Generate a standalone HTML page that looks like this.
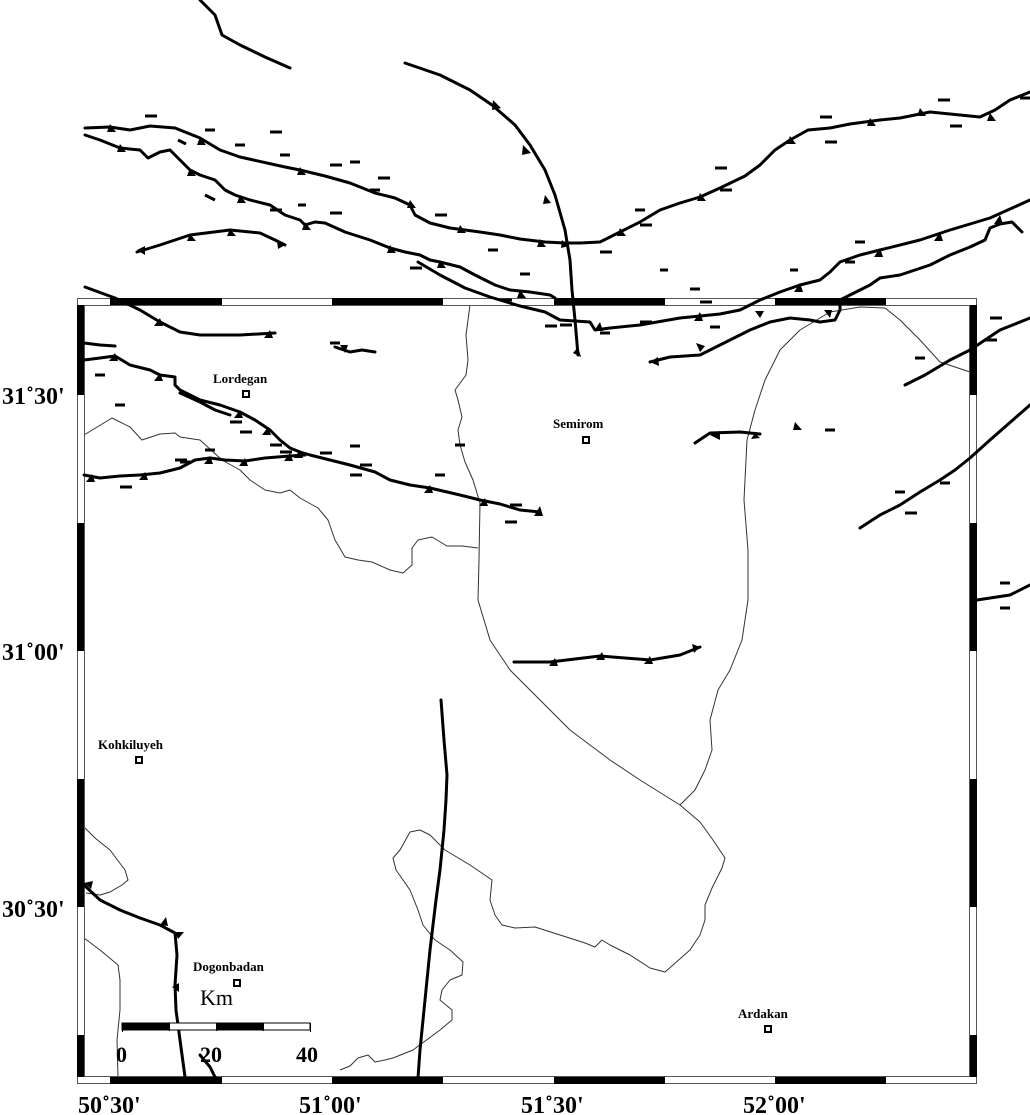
<!DOCTYPE html>
<html><head><meta charset="utf-8"><style>
html,body{margin:0;padding:0;background:#fff}
svg{display:block}
.t{font-family:"Liberation Serif",serif;font-weight:bold}
</style></head><body>
<svg width="1030" height="1115" viewBox="0 0 1030 1115" xmlns="http://www.w3.org/2000/svg">
<defs>
<clipPath id="inner"><rect x="84" y="305" width="886" height="772"/></clipPath>
</defs>
<!-- thin boundaries -->
<g fill="none" stroke="#333" stroke-width="1" stroke-linejoin="round">
<polyline points="84,435 112,418 130,427 142,440 160,434 175,433 180,437 200,440 211,450 222,460 240,470 250,480 265,490 280,493 290,490 300,498 318,508 328,520 335,540 345,557 358,560 372,562 390,570 403,573 412,565 412,548 418,540 432,537 447,546 462,546 478,548"/>
<polyline points="470,305 466,335 468,360 466,375 455,390 458,400 462,417 458,430 460,445 465,462 473,480 480,503 479,560 478,600 490,640 510,670 540,700 570,730 610,760 640,780 680,805"/>
<polyline points="680,805 695,790 705,770 712,750 710,720 718,690 730,670 742,640 748,600 748,550 744,500 747,440 755,410 765,380 780,350 800,330 830,312 860,307 885,308 900,320 920,340 940,362 970,372"/>
<polyline points="680,805 700,822 713,840 725,858 722,868 712,888 705,905 705,920 700,935 690,950 665,972 650,968 630,955 610,945 602,940 595,947 585,943 560,935 535,927 515,928 502,925 495,915 490,900 492,880 470,865 445,850 430,835 420,830 410,832 400,850 393,858 396,870 410,890 418,910 423,925 435,940 450,950 463,962 462,975 450,980 442,990 440,1000 452,1010 452,1020 440,1030 413,1050 393,1058 385,1060 375,1062 368,1055 358,1058 350,1066 340,1070"/>
<polyline points="84,827 95,838 110,850 125,870 128,880 122,885 110,892 100,895 86,893"/>
<polyline points="84,938 100,950 118,965 120,980 120,1010 117,1040 118,1077"/>
</g>
<!-- frame -->
<g>
<rect x="77.5" y="298.5" width="899" height="785" fill="none" stroke="#555" stroke-width="1"/>
<rect x="84.5" y="305.5" width="885" height="771" fill="none" stroke="#555" stroke-width="1"/>
<g fill="#000">
<rect x="110" y="298" width="112" height="7"/><rect x="332" y="298" width="111" height="7"/><rect x="554" y="298" width="111" height="7"/><rect x="775" y="298" width="111" height="7"/>
<rect x="110" y="1077" width="112" height="7"/><rect x="332" y="1077" width="111" height="7"/><rect x="554" y="1077" width="111" height="7"/><rect x="775" y="1077" width="111" height="7"/>
<rect x="77" y="305" width="7" height="90"/><rect x="77" y="523" width="7" height="128"/><rect x="77" y="779" width="7" height="128"/><rect x="77" y="1035" width="7" height="42"/>
<rect x="970" y="305" width="7" height="90"/><rect x="970" y="523" width="7" height="128"/><rect x="970" y="779" width="7" height="128"/><rect x="970" y="1035" width="7" height="42"/>
</g>
</g>
<!-- thick faults -->
<g fill="none" stroke="#000" stroke-width="3" stroke-linejoin="round" stroke-linecap="round">
<polyline points="200,0 215,15 222,35 240,45 265,57 290,68"/>
<polyline points="405,63 440,75 470,90 492,105 515,125 530,145 545,170 555,195 565,230 570,260 572,290 575,320 578,355"/>
<polyline points="85,128 110,127 130,130 150,126 175,128 200,138 220,150 240,157 285,167 300,170 325,176 350,183 375,193 395,198 410,205 415,215 430,223 450,228 480,232 500,235 520,239 545,242 565,243 580,243 600,242 620,232 640,222 660,210 680,203 700,197 720,188 745,176 760,165 775,150 790,140 808,130 830,128 850,124 880,120 900,118 930,112 960,115 980,117 995,110 1010,100 1030,92"/>
<polyline points="85,135 100,140 120,148 140,150 148,158 160,152 170,150 180,160 190,170 200,175 215,180 225,190 235,195 250,200 270,205 285,215 300,220 305,225 315,222 325,223 345,232 370,240 390,248 405,252 420,255 430,260 440,262 460,267 475,275 495,285 510,290 530,292 550,295 555,298"/>
<polyline points="418,262 440,275 465,288 490,297 520,306 545,312 560,320 590,322 595,330 610,328 640,325 680,318 720,314 740,310 760,300 780,292 800,285 820,280 830,272 840,262 860,255 880,250 920,240 950,230 990,218 1030,200"/>
<polyline points="137,252 160,245 190,235 230,230 260,233 275,240 285,245"/>
<polyline points="85,287 115,298 140,310 160,322 180,332 200,335 240,335 275,333"/>
<polyline points="84,343 100,345 115,346"/>
<polyline points="335,347 350,352 362,350 375,352"/>
<polyline points="84,360 100,358 115,356 130,365 150,370 160,375 175,377 175,385 180,390 190,395 200,400 220,405 240,412 255,420 270,430 280,440 290,448 300,452 310,455 330,460 350,465 375,472 390,480 410,485 430,488 460,495 480,500 500,504 520,510 540,512"/>
<polyline points="180,393 200,402 215,410 230,415"/>
<polyline points="84,475 100,478 120,476 140,475 160,473 180,468 195,460 210,458 225,460 245,461 265,458 290,456 305,455"/>
<polyline points="650,362 670,357 700,355 710,350 730,340 750,330 770,322 790,318 810,320 820,322 835,320 840,310 840,300 850,295 870,285 880,278 900,275 930,265 950,255 970,247 985,240 990,228 1000,224 1012,222 1022,232"/>
<polyline points="695,443 710,433 740,432 760,434"/>
<polyline points="860,528 880,515 900,505 920,492 940,480 955,470 970,458 990,440 1030,405"/>
<polyline points="905,385 925,375 950,360 970,350 1000,330 1030,318"/>
<polyline points="977,600 1010,595 1030,585"/>
<polyline points="514,662 550,662 600,656 650,660 680,655 700,647"/>
<polyline points="441,700 444,740 447,775 446,800 444,830 440,870 436,900 430,950 425,1000 420,1050 418,1078"/>
<polyline points="84,885 100,900 120,910 140,918 160,925 175,933 177,955 175,985 176,1010 180,1040 185,1077"/>
<polyline points="200,1055 210,1067 215,1077"/>
</g>
<!-- triangles -->
<g fill="#000">
<path d="M493,100 l8,8 l-9,2z M523,145 l8,8 l-9,2z M545,195 l6,8 l-8,1z M562,240 l7,6 l-8,2z M578,347 l3,10 l-8,-4z"/>
<path d="M110,124 l6,8 l-9,0z M200,137 l6,8 l-9,0z M300,167 l6,8 l-9,0z M410,200 l6,8 l-9,0z M460,225 l6,8 l-9,0z M540,239 l6,8 l-9,0z M620,228 l6,8 l-9,0z M700,193 l6,8 l-9,0z M790,136 l6,8 l-9,0z M870,118 l6,8 l-9,0z M920,108 l6,8 l-9,0z M990,113 l6,8 l-9,0z"/>
<path d="M120,144 l6,8 l-9,0z M190,168 l6,8 l-9,0z M240,195 l6,8 l-9,0z M305,222 l6,8 l-9,0z M390,245 l6,8 l-9,0z M440,260 l6,8 l-9,0z M520,290 l6,8 l-9,0z"/>
<path d="M190,234 l6,7 l-9,0z M230,229 l6,7 l-9,0z M137,250 l8,-4 l0,9z M285,245 l-8,-5 l1,9z"/>
<path d="M600,322 l-6,9 l9,0z M700,312 l-6,9 l9,0z M800,283 l-6,9 l9,0z M880,248 l-6,9 l9,0z M940,232 l-6,9 l9,0z M1000,215 l-6,9 l9,0z"/>
<path d="M160,318 l-6,8 l9,0z M270,330 l-6,8 l9,0z M115,353 l-6,8 l9,0z M160,373 l-6,8 l9,0z M240,410 l-6,8 l9,0z M268,427 l-6,8 l9,0z M300,450 l-6,8 l9,0z M430,485 l-6,8 l9,0z M485,498 l-6,8 l9,0z M540,506 l-6,10 l9,0z"/>
<path d="M145,472 l-6,8 l9,0z M210,456 l-6,8 l9,0z M245,458 l-6,8 l9,0z M290,453 l-6,8 l9,0z M92,474 l-6,8 l9,0z"/>
<path d="M555,658 l-6,8 l9,0z M602,652 l-6,8 l9,0z M650,656 l-6,8 l9,0z M700,647 l-8,-3 l2,9z"/>
<path d="M650,362 l8,-5 l1,9z M700,352 l-4,-9 l9,3z M760,318 l-5,-7 l9,0z M830,318 l-6,-8 l8,0z"/>
<path d="M710,435 l10,-4 l0,9z M755,433 l5,5 l-9,1z M795,422 l7,8 l-9,0z M340,345 l8,0 l-3,8z"/>
<path d="M84,883 l9,-2 l-2,8z M160,925 l6,-8 l2,9z M175,932 l9,0 l-6,7z M172,987 l7,-4 l0,9z"/>
</g>
<!-- slip arrows -->
<g stroke="#000" stroke-width="3" fill="none" stroke-linecap="butt">
<path d="M145,116 h12 M205,130 h10 M235,145 h10 M270,132 h12 M280,155 h10 M330,165 h12 M350,162 h10 M378,178 h12 M435,215 h12 M488,250 h10 M520,274 h10 M370,190 h10 M330,213 h12 M270,210 h12 M298,205 h8 M205,195 l10,5 M178,140 l8,4 M410,268 h12 M500,300 h12 M600,252 h12 M560,325 h12 M660,125 h0"/>
<path d="M820,117 h12 M825,142 h12 M715,168 h12 M720,190 h12 M635,210 h10 M640,225 h12 M600,333 h10 M640,322 h12 M545,326 h12 M660,270 h8 M690,289 h10 M855,242 h10 M845,262 h10 M700,302 h12 M790,270 h8 M938,100 h12 M950,126 h12 M1020,98 h10 M710,327 h10"/>
<path d="M990,318 h12 M985,340 h12 M915,358 h10 M825,430 h10 M895,492 h10 M905,513 h12 M1000,583 h10 M1000,608 h10 M940,483 h10"/>
<path d="M95,375 h10 M115,405 h10 M120,487 h12 M175,460 h12 M205,450 h10 M240,432 h12 M280,452 h12 M320,453 h12 M350,446 h10 M350,475 h12 M360,465 h12 M435,475 h10 M455,445 h10 M330,343 h10 M510,505 h12 M505,522 h12 M230,422 h12 M270,445 h12 M180,462 h10 M505,410 h0"/>
</g>
<!-- cities -->
<g fill="none" stroke="#000" stroke-width="2">
<rect x="243" y="391" width="6" height="6"/><rect x="583" y="437" width="6" height="6"/><rect x="136" y="757" width="6" height="6"/><rect x="234" y="980" width="6" height="6"/><rect x="765" y="1026" width="6" height="6"/>
</g>
<g class="t" font-size="13" fill="#000">
<text x="213" y="383">Lordegan</text>
<text x="553" y="428">Semirom</text>
<text x="98" y="749">Kohkiluyeh</text>
<text x="193" y="971">Dogonbadan</text>
<text x="738" y="1018">Ardakan</text>
</g>
<!-- scale bar -->
<g>
<rect x="122" y="1023" width="188" height="7" fill="#fff" stroke="#000" stroke-width="1"/>
<rect x="122" y="1023" width="47" height="7" fill="#000"/>
<rect x="216" y="1023" width="47" height="7" fill="#000"/>
<path d="M122.5,1023 v9 M169.5,1023 v8 M216.5,1023 v8 M263.5,1023 v8 M310.5,1023 v9" stroke="#000" stroke-width="1"/>
</g>
<text x="200" y="1005" font-family="Liberation Serif,serif" font-size="22">Km</text>
<g class="t" font-size="22" fill="#000">
<text x="116" y="1062">0</text><text x="200" y="1062">20</text><text x="296" y="1062">40</text>
</g>
<g class="t" font-size="24" fill="#000">
<text x="2" y="404">31˚30'</text>
<text x="2" y="660">31˚00'</text>
<text x="2" y="917">30˚30'</text>
<text x="78" y="1113">50˚30'</text>
<text x="299" y="1113">51˚00'</text>
<text x="521" y="1113">51˚30'</text>
<text x="743" y="1113">52˚00'</text>
</g>
</svg>
</body></html>
